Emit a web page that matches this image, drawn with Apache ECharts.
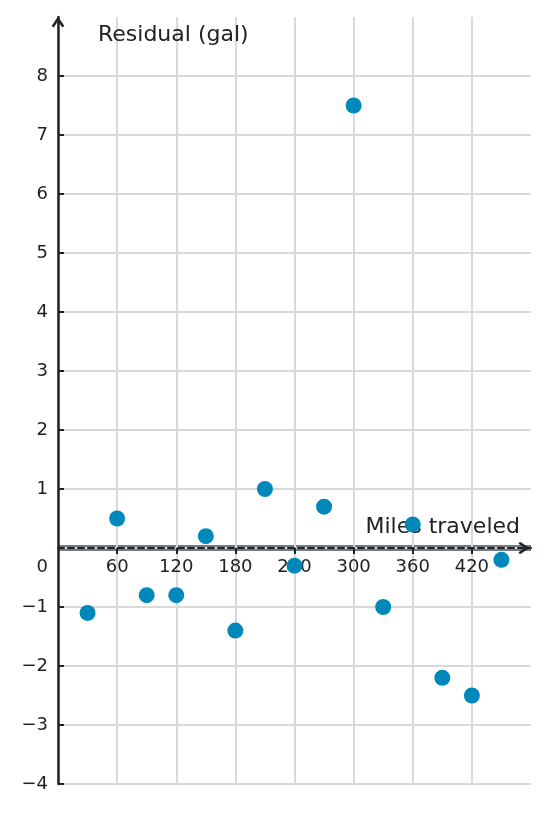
<!DOCTYPE html>
<html>
<head>
<meta charset="utf-8">
<script src="https://cdn.jsdelivr.net/npm/echarts@6/dist/echarts.min.js"></script>
<style>
html,body{margin:0;padding:0;background:#fff;}
#chart{width:548px;height:813px;}
</style>
</head>
<body>
<div id="chart"></div>
<script>
// ---- data ----
const milesTraveled = [30, 60, 90, 120, 150, 180, 210, 240, 270, 300, 330, 360, 390, 420, 450];
const residuals = [-1.1, 0.5, -0.8, -0.8, 0.2, -1.4, 1.0, -0.3, 0.7, 7.5, -1.0, 0.4, -2.2, -2.5, -0.2];
const xTicks = [0, 60, 120, 180, 240, 300, 360, 420, 480];
const yTicks = [-4, -3, -2, -1, 0, 1, 2, 3, 4, 5, 6, 7, 8, 9];
const xTitle = 'Miles traveled';
const yTitle = 'Residual (gal)';

const X_MIN = xTicks[0], X_MAX = xTicks[xTicks.length - 1];
const Y_MIN = yTicks[0], Y_MAX = yTicks[yTicks.length - 1];

const points = milesTraveled.map((m, i) => [m, residuals[i]]);
const zeroLine = [[X_MIN, 0], [X_MAX, 0]];

const FONT = 'DejaVu Sans';
const INK = '#222222';
const GRID = '#d9d9d9';
const chevron = 'path://M0,9 L6,0 L12,9 L10,10.4 L6,4.2 L2,10.4 Z';

const GRID_TOP = 17, GRID_BOTTOM = 29, H = 813;
const plotH = H - GRID_TOP - GRID_BOTTOM;
// distance from bottom of plot to the zero line (labels of the x axis sit under the zero line)
const zeroFromBottom = plotH * (0 - Y_MIN) / (Y_MAX - Y_MIN);

const chart = echarts.init(document.getElementById('chart'), null, {renderer: 'canvas'});
chart.setOption({
  animation: false,
  backgroundColor: '#ffffff',
  grid: {left: 58, right: 17, top: GRID_TOP, bottom: GRID_BOTTOM, containLabel: false},
  xAxis: {
    type: 'value', min: X_MIN, max: X_MAX, interval: 60, z: 3,
    name: xTitle, nameLocation: 'end', nameGap: -11,
    nameTextStyle: {fontFamily: FONT, fontSize: 22, color: INK, align: 'right', verticalAlign: 'bottom', padding: [0, 0, 10, 0]},
    axisLine: {show: true, onZero: true, symbol: ['none', chevron], symbolSize: [13, 11], symbolOffset: [0, -7],
      lineStyle: {color: INK, width: 2, type: [6, 4]}},
    axisTick: {show: true, inside: false, length: 6, lineStyle: {color: INK, width: 2}},
    axisLabel: {show: true, margin: 10 - zeroFromBottom, fontFamily: FONT, fontSize: 18, color: INK, showMinLabel: false, showMaxLabel: false},
    splitLine: {show: true, showMinLine: true, showMaxLine: false, lineStyle: {color: GRID, width: 2}}
  },
  yAxis: {
    type: 'value', min: Y_MIN, max: Y_MAX, interval: 1, z: 3,
    name: yTitle, nameLocation: 'end', nameGap: -18,
    nameTextStyle: {fontFamily: FONT, fontSize: 22, color: INK, align: 'left', verticalAlign: 'middle', padding: [0, 0, 0, 40]},
    axisLine: {show: true, symbol: ['none', chevron], symbolSize: [13, 11], symbolOffset: [0, -5],
      lineStyle: {color: INK, width: 2.5}},
    axisTick: {show: true, inside: true, length: 6, lineStyle: {color: INK, width: 2}},
    axisLabel: {
      show: true, margin: 10, fontFamily: FONT, fontSize: 18, color: INK, showMaxLabel: false,
      formatter: v => v === 0 ? '{z|0}' : String(v).replace('-', '\u2212'),
      rich: {z: {fontFamily: FONT, fontSize: 18, color: INK, padding: [38, 0, 0, 0]}}
    },
    splitLine: {show: true, showMinLine: true, showMaxLine: false, lineStyle: {color: GRID, width: 2}}
  },
  series: [
    {
      type: 'line', data: zeroLine, z: 1, silent: true, symbol: 'none',
      lineStyle: {color: '#6f7c83', width: 6}
    },
    {
      type: 'scatter', data: points, z: 5, symbol: 'circle', symbolSize: 16,
      itemStyle: {color: '#0088bb', opacity: 1}
    }
  ]
});
</script>
</body>
</html>
